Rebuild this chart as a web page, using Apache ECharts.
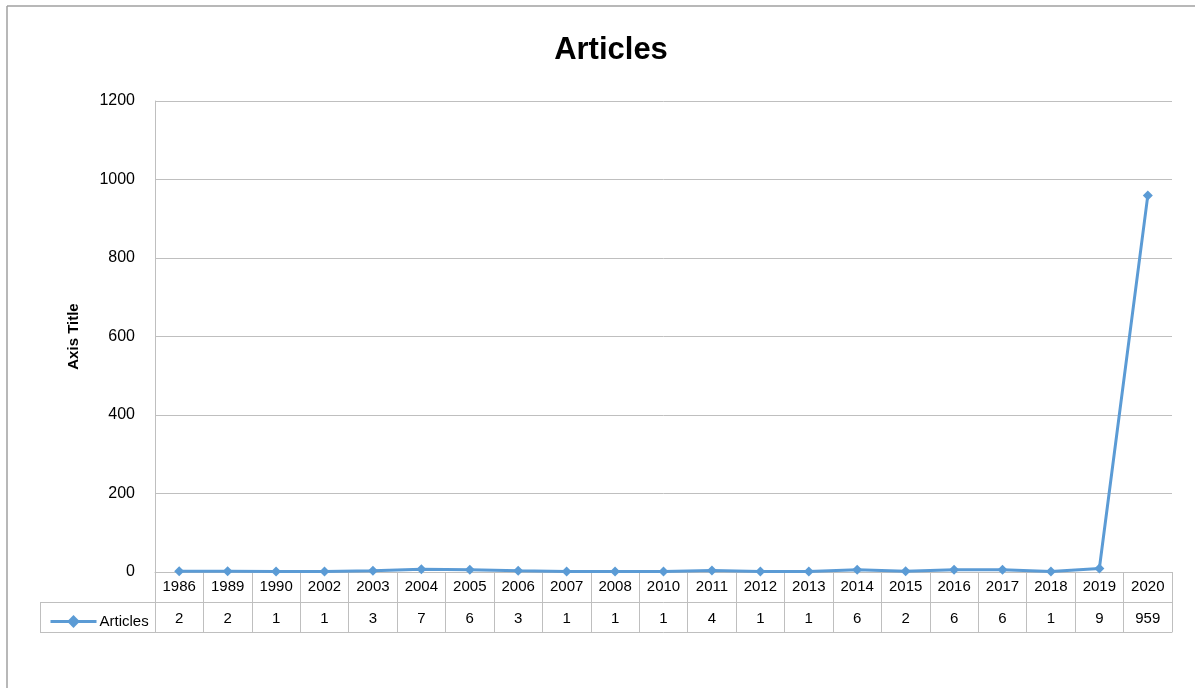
<!DOCTYPE html>
<html>
<head>
<meta charset="utf-8">
<title>Articles</title>
<script src="https://cdn.jsdelivr.net/npm/echarts@6/dist/echarts.min.js"></script>
<style>
  html, body { margin: 0; padding: 0; background: #fff; }
  #chart { width: 1195px; height: 688px; }
</style>
</head>
<body>
<div id="chart"></div>
<script>
// data
var years = ["1986", "1989", "1990", "2002", "2003", "2004", "2005", "2006", "2007", "2008",
  "2010", "2011", "2012", "2013", "2014", "2015", "2016", "2017", "2018", "2019", "2020"];
var articles = [2, 2, 1, 1, 3, 7, 6, 3, 1, 1, 1, 4, 1, 1, 6, 2, 6, 6, 1, 9, 959];
var seriesName = "Articles";

var font = "'Liberation Sans', Arial, sans-serif";
var gridColor = "#bfbfbf";
var lineColor = "#5B9BD5";

var chart = echarts.init(document.getElementById("chart"));

chart.setOption({
  animation: false,
  textStyle: { fontFamily: font },
  title: {
    text: "Articles",
    left: 606,
    textAlign: "center",
    top: 30,
    textStyle: { fontSize: 31, fontWeight: "bold", color: "#000", fontFamily: font }
  },
  legend: {
    data: [seriesName],
    left: 44,
    top: 609,
    itemWidth: 46,
    itemHeight: 16,
    itemGap: 0,
    lineStyle: { width: 3 },
    textStyle: { fontSize: 15, color: "#000", fontFamily: font, padding: [0, 0, 0, -2] }
  },
  grid: { left: 155, right: 23, top: 101, bottom: 116, containLabel: false },
  xAxis: [
    {
      type: "category",
      data: years,
      boundaryGap: true,
      axisLine: { show: true, lineStyle: { color: gridColor, width: 1 } },
      axisTick: { show: true, interval: 0, length: 30, lineStyle: { color: gridColor } },
      axisLabel: { interval: 0, margin: 7, fontSize: 15, color: "#000", fontFamily: font },
      splitLine: { show: false }
    },
    {
      type: "category",
      position: "bottom",
      offset: 30,
      data: articles.map(String),
      boundaryGap: true,
      axisLine: { show: true, lineStyle: { color: gridColor, width: 1 } },
      axisTick: { show: true, interval: 0, length: 30, lineStyle: { color: gridColor } },
      axisLabel: { interval: 0, margin: 9, fontSize: 15, color: "#000", fontFamily: font },
      splitLine: { show: false }
    },
    {
      type: "category",
      position: "bottom",
      offset: 60,
      data: years,
      axisLine: { show: true, lineStyle: { color: gridColor, width: 1 } },
      axisTick: { show: false },
      axisLabel: { show: false },
      splitLine: { show: false }
    }
  ],
  yAxis: {
    type: "value",
    min: 0,
    max: 1200,
    interval: 200,
    name: "Axis Title",
    nameLocation: "middle",
    nameGap: 74,
    nameTextStyle: { fontSize: 15, fontWeight: "bold", color: "#000", fontFamily: font },
    axisLine: { show: true, lineStyle: { color: gridColor, width: 1 } },
    axisTick: { show: false },
    axisLabel: {
      margin: 20, fontSize: 16, color: "#000", fontFamily: font,
      formatter: function (v) { return String(v); }
    },
    splitLine: { show: true, lineStyle: { color: gridColor, width: 1 } }
  },
  series: [
    {
      name: seriesName,
      type: "line",
      xAxisIndex: 0,
      data: articles,
      symbol: "diamond",
      symbolSize: 10,
      lineStyle: { color: lineColor, width: 3 },
      itemStyle: { color: lineColor },
      z: 5
    }
  ],
  graphic: [
    // outer chart frame (left and top edges)
    { type: "line", shape: { x1: 7, y1: 6, x2: 1195, y2: 6 }, style: { stroke: "#a0a0a0", lineWidth: 1.5 } },
    { type: "line", shape: { x1: 7, y1: 6, x2: 7, y2: 688 }, style: { stroke: "#a0a0a0", lineWidth: 1.5 } },
    // legend cell of the data table
    { type: "line", shape: { x1: 40, y1: 602.5, x2: 155, y2: 602.5 }, style: { stroke: gridColor, lineWidth: 1 } },
    { type: "line", shape: { x1: 40, y1: 632.5, x2: 155, y2: 632.5 }, style: { stroke: gridColor, lineWidth: 1 } },
    { type: "line", shape: { x1: 40.5, y1: 602, x2: 40.5, y2: 633 }, style: { stroke: gridColor, lineWidth: 1 } },
    { type: "line", shape: { x1: 155.5, y1: 572, x2: 155.5, y2: 633 }, style: { stroke: gridColor, lineWidth: 1 } }
  ]
});
</script>
</body>
</html>
